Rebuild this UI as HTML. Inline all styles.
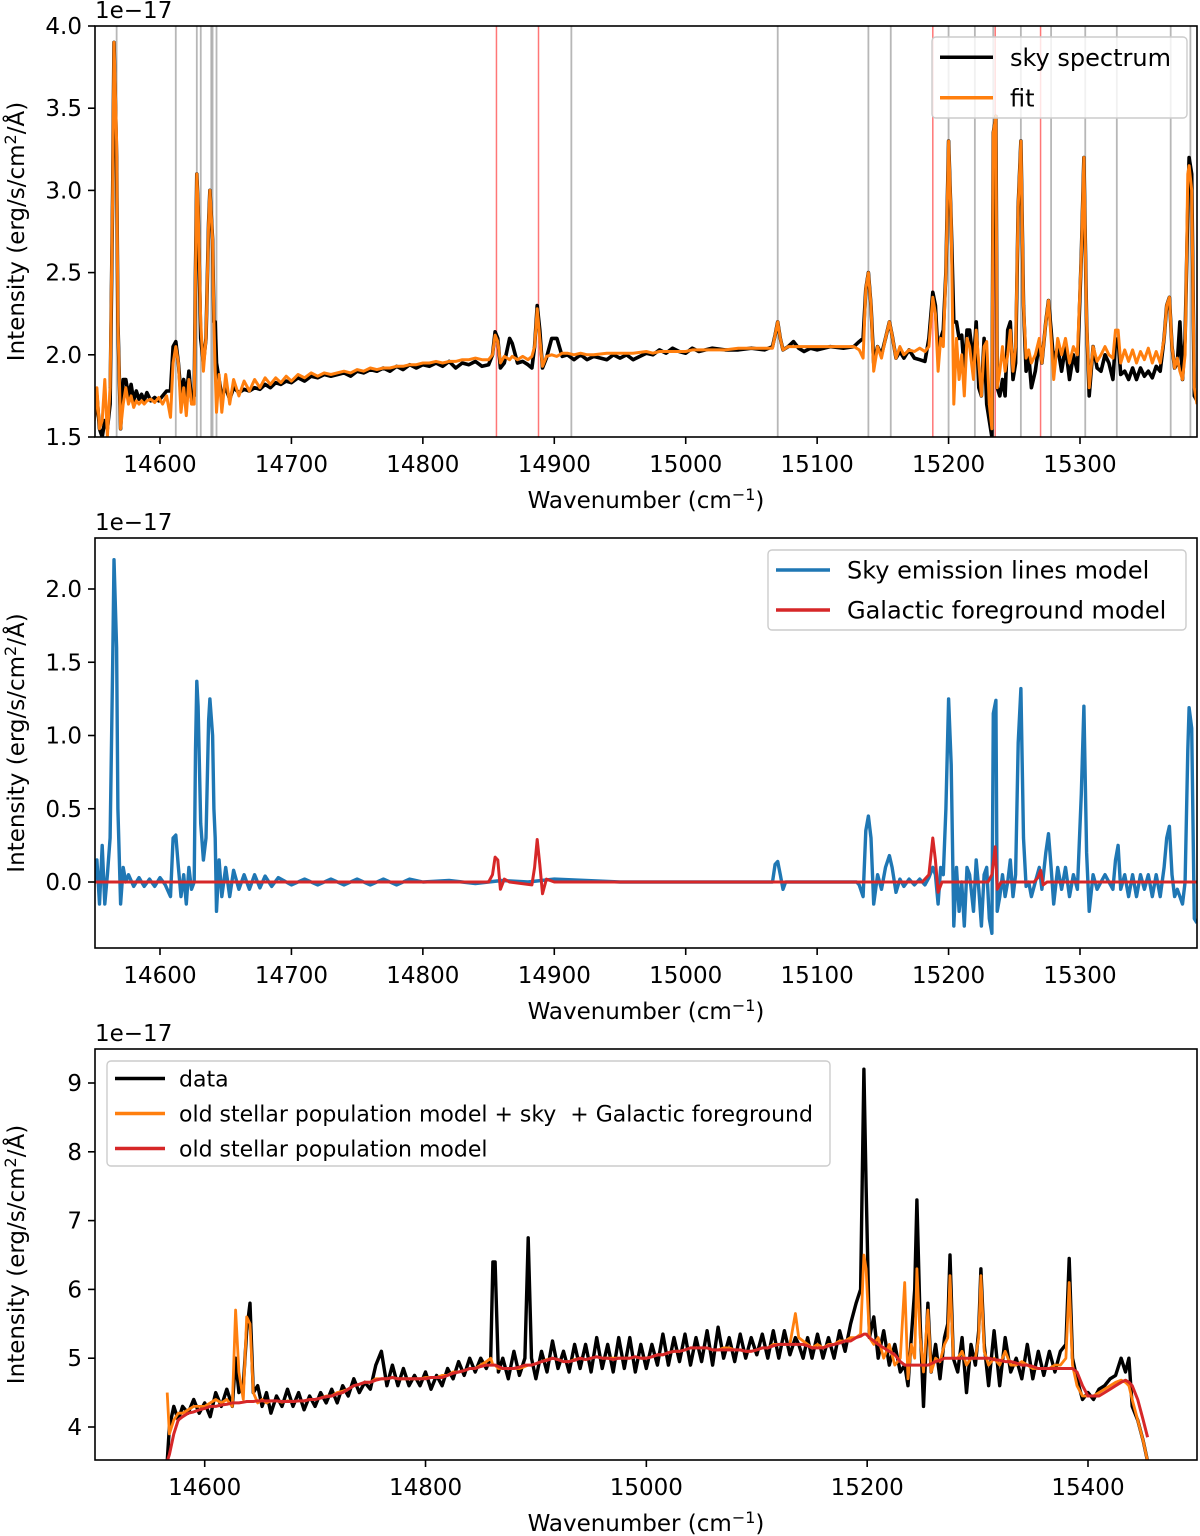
<!DOCTYPE html>
<html><head><meta charset="utf-8">
<style>
body{margin:0;background:#fff;}
svg{display:block;font-family:"DejaVu Sans","Liberation Sans",sans-serif;}
text{white-space:pre;}
</style></head>
<body>
<svg id="fig" width="1200" height="1536" viewBox="0 0 1200 1536" xmlns="http://www.w3.org/2000/svg">
<defs>
<clipPath id="c1"><rect x="95" y="26" width="1102" height="411"/></clipPath>
<clipPath id="c2"><rect x="95" y="538" width="1102" height="410"/></clipPath>
<clipPath id="c3"><rect x="95" y="1049" width="1102" height="411"/></clipPath>
</defs>
</svg>
<script>
// ---------- Panel 1 data ----------
const wn1=[14550,14552,14554,14556,14558,14560,14562,14564,14565,14567,14568,14570,14572,14574,14576,14578,14580,14582,14584,14586,14588,14590,14593,14596,14599,14602,14605,14608,14610,14612,14614,14616,14618,14620,14622,14624,14626,14627,14628,14629,14631,14633,14635,14637,14638,14640,14641,14642,14643,14645,14647,14650,14653,14656,14660,14664,14668,14672,14676,14680,14684,14688,14692,14696,14700,14705,14710,14715,14720,14725,14730,14740,14745,14750,14755,14760,14765,14770,14775,14780,14785,14790,14795,14800,14805,14810,14815,14820,14825,14830,14835,14840,14845,14850,14853,14855,14857,14859,14862,14866,14868,14872,14876,14880,14883,14885,14887,14889,14891,14894,14898,14902,14906,14910,14915,14920,14925,14930,14940,14945,14950,14955,14960,14970,14975,14980,14985,14990,14995,15000,15005,15010,15020,15030,15040,15050,15060,15066,15068,15070,15072,15074,15078,15082,15086,15090,15095,15100,15110,15120,15128,15132,15135,15137,15139,15141,15143,15146,15149,15152,15155,15157,15160,15163,15166,15170,15174,15178,15182,15185,15188,15190,15192,15194,15196,15198,15200,15202,15204,15206,15208,15210,15212,15214,15216,15219,15221,15223,15225,15227,15229,15231,15233,15234,15236,15237,15239,15241,15243,15245,15247,15249,15251,15253,15255,15257,15259,15261,15263,15266,15269,15271,15274,15276,15278,15280,15283,15286,15289,15292,15295,15298,15301,15303,15305,15307,15310,15313,15316,15319,15322,15325,15327,15329,15331,15334,15337,15340,15343,15346,15349,15352,15355,15358,15361,15364,15366,15368,15370,15372,15374,15376,15378,15380,15382,15383,15385,15387,15389];
const sky1=[1.62,1.75,1.55,1.5,1.6,1.55,1.7,3.0,3.9,3.2,2.2,1.55,1.85,1.85,1.75,1.82,1.72,1.78,1.73,1.76,1.72,1.77,1.72,1.74,1.72,1.75,1.78,1.78,2.05,2.08,1.95,1.75,1.85,1.75,1.9,1.72,1.75,2.5,3.1,2.9,2.1,1.95,2.1,2.8,3.0,2.7,2.2,2.2,1.95,1.85,1.75,1.8,1.73,1.8,1.77,1.79,1.78,1.80,1.79,1.82,1.80,1.83,1.82,1.84,1.83,1.86,1.84,1.87,1.86,1.88,1.87,1.89,1.87,1.90,1.89,1.91,1.90,1.92,1.90,1.93,1.91,1.94,1.92,1.94,1.93,1.95,1.93,1.96,1.92,1.95,1.94,1.96,1.93,1.94,2.0,2.14,2.1,1.92,1.95,2.1,2.07,1.95,1.96,1.94,1.92,2.05,2.3,2.15,1.92,1.98,2.1,2.1,1.99,2.0,1.97,2.0,1.97,1.99,1.97,2.0,1.98,2.0,1.97,2.01,2.0,2.03,2.01,2.04,2.02,2.01,2.04,2.02,2.04,2.03,2.03,2.04,2.03,2.05,2.12,2.2,2.1,2.03,2.05,2.08,2.04,2.02,2.04,2.03,2.05,2.04,2.05,2.08,2.1,2.4,2.5,2.3,1.95,2.05,2.0,2.1,2.2,2.12,1.98,2.02,1.98,2.03,1.98,1.97,1.96,2.1,2.38,2.3,2.0,2.1,2.15,2.5,3.3,2.8,2.2,2.2,2.1,2.12,1.9,2.15,2.15,1.95,2.2,1.8,1.75,2.1,1.7,1.6,1.5,3.35,3.45,1.8,1.75,1.85,1.75,2.15,2.2,1.85,1.95,2.9,3.3,2.3,1.9,2.0,1.8,1.9,2.08,1.95,2.2,2.33,2.15,1.95,2.05,1.9,2.05,1.85,2.0,1.9,2.6,3.2,2.2,1.75,2.05,1.92,1.9,2.0,1.95,1.85,2.08,2.1,1.88,1.90,1.85,1.92,1.85,1.92,1.87,1.90,1.86,1.93,1.9,2.1,2.3,2.35,2.05,1.92,1.95,2.2,1.85,2.1,2.9,3.2,3.1,1.75,1.72];
const fit1=[1.6,1.8,1.55,1.6,1.85,1.5,1.8,3.0,3.9,3.3,2.2,1.55,1.7,1.8,1.7,1.75,1.68,1.72,1.7,1.72,1.7,1.72,1.73,1.71,1.74,1.70,1.75,1.62,1.95,2.05,1.95,1.65,1.80,1.63,1.85,1.70,1.7,2.5,3.1,2.9,2.2,1.9,2.1,2.8,3.0,2.7,2.2,1.9,1.65,1.88,1.65,1.88,1.7,1.85,1.75,1.84,1.78,1.85,1.80,1.86,1.82,1.86,1.83,1.87,1.84,1.88,1.86,1.89,1.87,1.89,1.88,1.90,1.89,1.91,1.90,1.92,1.91,1.92,1.92,1.93,1.93,1.94,1.94,1.95,1.95,1.96,1.95,1.96,1.96,1.97,1.97,1.98,1.97,1.97,2.0,2.12,2.08,1.95,1.99,1.97,1.99,1.97,1.99,1.97,1.99,2.05,2.28,2.1,1.93,1.99,2.0,1.99,2.01,2.01,2.0,2.01,2.0,2.0,2.01,2.01,2.01,2.01,2.01,2.02,2.01,2.02,2.02,2.02,2.02,2.02,2.03,2.03,2.03,2.03,2.04,2.04,2.04,2.04,2.12,2.2,2.1,2.03,2.05,2.05,2.05,2.05,2.05,2.05,2.05,2.05,2.05,2.03,1.98,2.4,2.5,2.3,1.9,2.05,1.98,2.1,2.2,2.12,1.98,2.05,2.0,2.03,2.02,2.04,2.02,2.05,2.35,2.25,1.9,2.1,2.05,2.5,3.3,2.8,1.7,2.1,1.85,2.0,1.75,2.1,2.05,1.85,2.15,1.95,1.75,2.05,2.08,1.7,1.55,3.35,3.45,1.8,1.9,2.05,1.9,2.0,2.15,1.9,2.05,2.9,3.3,2.3,1.98,2.03,1.95,2.0,2.1,1.95,2.2,2.33,2.1,1.85,2.1,2.0,2.1,1.95,2.05,2.0,2.6,3.2,2.2,1.8,2.05,1.96,2.0,2.05,2.0,1.98,2.15,2.15,1.95,2.03,1.96,2.03,1.95,2.02,1.97,2.04,1.95,2.02,1.95,2.1,2.3,2.35,2.05,1.92,1.98,1.9,1.85,2.0,3.1,3.15,3.0,1.8,1.7];
const grayLines1=[14567,14612,14628,14631,14639,14640,14643,14913,15070,15139,15156,15200,15220,15234,15255,15278,15304,15328,15369,15384];
const redLines1=[14856,14888,15188,15235.5,15270];
const yTicks1=[1.5,2.0,2.5,3.0,3.5,4.0];
const xTicks12=[14600,14700,14800,14900,15000,15100,15200,15300];

// ---------- Panel 2 data ----------
const wn2s=[14550,14552,14554,14556,14558,14560,14562,14564,14565,14567,14568,14570,14572,14574,14576,14580,14584,14588,14592,14596,14600,14604,14608,14610,14612,14614,14616,14618,14620,14622,14624,14626,14627,14628,14629,14631,14633,14635,14637,14638,14640,14641,14642,14643,14645,14647,14650,14653,14656,14660,14664,14668,14672,14676,14680,14685,14690,14700,14710,14720,14730,14740,14750,14760,14770,14780,14790,14800,14820,14840,14860,14880,14900,14950,15000,15066,15068,15070,15072,15074,15076,15130,15132,15135,15137,15139,15141,15143,15146,15149,15152,15155,15157,15160,15163,15166,15170,15174,15178,15182,15185,15188,15190,15192,15194,15196,15198,15200,15202,15204,15206,15208,15210,15212,15214,15216,15219,15221,15223,15225,15227,15229,15231,15233,15234,15236,15237,15239,15241,15243,15245,15247,15249,15251,15253,15255,15257,15259,15261,15263,15266,15269,15271,15274,15276,15278,15280,15283,15286,15289,15292,15295,15298,15301,15303,15305,15307,15310,15313,15316,15319,15322,15325,15327,15329,15331,15334,15337,15340,15343,15346,15349,15352,15355,15358,15361,15364,15366,15368,15370,15372,15374,15376,15378,15380,15382,15383,15385,15387,15389];
const skyModel2=[0,0.15,-0.15,0.25,-0.15,0.05,0.3,1.5,2.2,1.6,0.5,-0.15,0.1,0.0,0.05,-0.03,0.03,-0.03,0.02,-0.03,0.03,-0.02,-0.1,0.3,0.32,0.1,-0.1,0.05,-0.15,0.1,-0.05,0.0,0.9,1.37,1.2,0.4,0.15,0.3,1.1,1.25,1.0,0.5,0.3,-0.2,0.15,-0.1,0.1,-0.1,0.08,-0.05,0.05,-0.05,0.05,-0.04,0.04,-0.03,0.03,-0.02,0.02,-0.02,0.02,-0.02,0.02,-0.02,0.02,-0.02,0.02,0,0.01,-0.01,0.01,0,0.02,0,0,0,0.12,0.14,0.05,-0.05,0,0,-0.02,-0.1,0.35,0.45,0.3,-0.15,0.05,-0.05,0.1,0.18,0.1,-0.07,0.02,-0.03,0.02,-0.02,0.02,-0.02,0.03,0.1,0.05,-0.15,0.1,0.05,0.5,1.25,0.8,-0.3,0.1,-0.2,0.0,-0.3,0.1,0.05,-0.2,0.15,-0.05,-0.3,0.05,0.1,-0.25,-0.35,1.15,1.24,-0.2,-0.1,0.05,-0.1,0.0,0.15,-0.1,0.05,0.95,1.32,0.3,-0.03,0.0,-0.1,0.0,0.1,-0.05,0.2,0.33,0.1,-0.15,0.1,-0.05,0.1,-0.1,0.05,-0.05,0.6,1.2,0.2,-0.2,0.05,-0.05,0.0,0.05,0.0,-0.05,0.15,0.25,-0.05,0.05,-0.1,0.05,-0.1,0.05,-0.05,0.05,-0.1,0.05,-0.1,0.1,0.3,0.38,0.05,-0.1,-0.05,-0.1,-0.15,0.0,0.9,1.19,1.05,-0.25,-0.28];
const wn2g=[14550,14850,14853,14855,14857,14859,14862,14866,14883,14885,14887,14889,14891,14894,14900,15180,15185,15188,15190,15192,15195,15230,15233,15235.5,15237,15240,15265,15268,15270,15272,15275,15389];
const galModel2=[0,0,0.05,0.17,0.15,-0.05,0.02,0,-0.02,0.1,0.29,0.12,-0.08,0.02,0,0,0.05,0.3,0.15,-0.07,0,0,0.05,0.24,-0.05,0,0,0.03,0.08,-0.02,0,0];
const yTicks2=[0.0,0.5,1.0,1.5,2.0];

// ---------- Panel 3 data ----------
const wn3=[14566,14568,14572,14576,14580,14585,14590,14595,14600,14605,14610,14615,14620,14625,14628,14631,14635,14638,14641,14644,14648,14652,14656,14660,14665,14670,14675,14680,14685,14690,14695,14700,14705,14710,14715,14720,14725,14730,14735,14740,14745,14750,14755,14760,14765,14770,14775,14780,14785,14790,14795,14800,14805,14810,14815,14820,14825,14830,14835,14840,14845,14850,14855,14859,14861,14863,14866,14870,14875,14880,14885,14890,14893,14896,14900,14905,14910,14915,14920,14925,14930,14935,14940,14945,14950,14955,14960,14965,14970,14975,14980,14985,14990,14995,15000,15005,15010,15015,15020,15025,15030,15035,15040,15045,15050,15055,15060,15065,15070,15075,15080,15085,15090,15095,15100,15105,15110,15115,15120,15125,15130,15135,15138,15142,15146,15150,15155,15160,15165,15170,15175,15180,15185,15190,15194,15197,15199,15202,15206,15210,15215,15220,15225,15230,15234,15237,15240,15243,15245,15248,15251,15255,15258,15262,15266,15270,15273,15275,15278,15282,15286,15290,15294,15298,15301,15303,15306,15310,15315,15320,15325,15330,15335,15340,15345,15350,15355,15360,15365,15370,15375,15380,15383,15386,15390,15395,15400,15405,15410,15415,15420,15425,15430,15434,15437,15440,15445,15450,15454];
const data3=[3.5,4.0,4.3,4.1,4.3,4.2,4.4,4.2,4.35,4.15,4.5,4.3,4.55,4.3,5.0,4.5,4.6,5.4,5.8,4.5,4.6,4.3,4.5,4.2,4.45,4.3,4.55,4.3,4.5,4.25,4.45,4.3,4.5,4.35,4.55,4.35,4.6,4.45,4.7,4.5,4.65,4.55,4.9,5.1,4.6,4.9,4.6,4.85,4.6,4.75,4.6,4.8,4.55,4.75,4.6,4.85,4.7,4.95,4.75,5.0,4.8,5.0,4.85,5.0,6.4,6.4,4.8,5.0,4.7,5.1,4.75,5.0,6.75,5.0,4.7,5.1,4.8,5.25,4.85,5.1,4.8,5.2,4.85,5.2,4.8,5.3,4.85,5.2,4.8,5.3,4.85,5.3,4.8,5.2,4.85,5.2,4.9,5.35,4.9,5.3,4.95,5.35,4.9,5.3,4.95,5.4,4.9,5.45,5.0,5.3,4.95,5.35,5.0,5.3,5.05,5.35,5.0,5.4,5.0,5.4,5.05,5.3,5.2,5.0,5.3,5.0,5.35,5.0,5.3,5.0,5.4,5.1,5.5,5.8,6.0,9.2,7.5,5.3,5.6,5.0,5.4,4.9,5.2,4.8,4.9,4.6,5.3,6.0,7.3,5.5,4.3,5.8,4.8,5.2,4.7,5.3,5.5,6.5,5.0,4.8,5.3,4.5,5.2,4.9,5.4,6.3,5.2,4.6,5.4,4.6,5.3,4.8,5.0,4.7,5.2,4.7,5.1,4.75,5.1,4.8,5.1,5.2,6.45,5.0,4.7,4.4,4.5,4.4,4.55,4.6,4.7,4.75,5.0,4.8,5.0,4.3,4.1,3.8,3.5];
const fullModel3=[4.5,3.9,4.1,4.2,4.2,4.25,4.3,4.3,4.3,4.35,4.4,4.35,4.4,4.3,5.7,4.8,4.4,5.6,5.5,4.5,4.35,4.4,4.35,4.38,4.38,4.36,4.38,4.37,4.38,4.38,4.4,4.4,4.42,4.45,4.45,4.5,4.52,4.55,4.6,4.62,4.65,4.65,4.7,4.7,4.7,4.72,4.7,4.7,4.7,4.7,4.7,4.72,4.72,4.72,4.75,4.75,4.8,4.8,4.82,4.85,4.85,4.9,4.95,5.0,4.9,4.9,4.85,4.85,4.85,4.85,4.85,4.88,4.9,4.9,4.92,4.95,4.98,5.0,4.98,4.95,4.95,4.98,5.0,4.98,5.0,5.02,5.0,5.0,5.0,5.0,5.0,5.0,5.02,5.0,5.0,5.02,5.05,5.05,5.08,5.1,5.1,5.12,5.15,5.15,5.15,5.15,5.12,5.12,5.15,5.15,5.12,5.12,5.1,5.1,5.12,5.15,5.15,5.2,5.2,5.2,5.2,5.65,5.3,5.25,5.2,5.15,5.2,5.15,5.2,5.2,5.25,5.25,5.3,5.3,5.35,6.5,6.3,5.3,5.2,5.3,5.0,5.2,4.9,5.0,6.1,4.7,5.2,5.0,6.3,5.3,4.8,5.7,4.8,5.0,4.95,5.2,5.3,6.2,5.0,5.0,5.1,4.9,5.0,5.0,5.3,6.2,5.1,4.9,5.0,4.9,5.1,4.9,4.9,4.95,4.9,4.85,4.85,4.85,4.85,4.9,4.9,5.0,6.1,4.9,4.6,4.45,4.45,4.45,4.5,4.55,4.6,4.65,4.68,4.65,4.6,4.4,4.1,3.8,3.5];
const stellar3=[3.5,3.6,3.9,4.1,4.15,4.2,4.22,4.25,4.27,4.3,4.3,4.32,4.33,4.35,4.35,4.35,4.36,4.37,4.37,4.37,4.38,4.38,4.38,4.38,4.38,4.37,4.37,4.37,4.38,4.38,4.4,4.4,4.42,4.44,4.45,4.48,4.5,4.55,4.6,4.62,4.65,4.65,4.68,4.7,4.7,4.72,4.7,4.7,4.7,4.7,4.7,4.7,4.72,4.72,4.72,4.75,4.78,4.8,4.82,4.85,4.85,4.88,4.9,4.9,4.9,4.9,4.88,4.85,4.85,4.85,4.87,4.9,4.9,4.9,4.92,4.95,4.97,5.0,4.98,4.95,4.95,4.97,5.0,4.98,5.0,5.02,5.0,5.0,4.98,5.0,5.0,5.0,5.02,5.0,5.0,5.02,5.05,5.05,5.08,5.1,5.1,5.12,5.15,5.15,5.15,5.15,5.12,5.12,5.12,5.12,5.12,5.12,5.1,5.1,5.12,5.15,5.15,5.18,5.2,5.2,5.2,5.2,5.2,5.2,5.18,5.15,5.15,5.15,5.18,5.2,5.22,5.25,5.25,5.3,5.32,5.35,5.35,5.3,5.25,5.2,5.15,5.1,5.05,4.95,4.9,4.9,4.9,4.9,4.9,4.9,4.9,4.9,4.92,4.95,4.97,5.0,5.0,5.0,5.0,5.0,5.0,5.0,5.0,5.0,5.0,5.0,5.0,5.0,4.98,4.97,4.95,4.95,4.93,4.9,4.9,4.88,4.85,4.85,4.85,4.85,4.85,4.85,4.85,4.85,4.8,4.6,4.45,4.45,4.45,4.5,4.55,4.6,4.65,4.68,4.65,4.6,4.4,4.1,3.85,3.5];
const yTicks3=[4,5,6,7,8,9];
const xTicks3=[14600,14800,15000,15200,15400];

// ---------- drawing ----------
const svg=document.getElementById('fig');
const NS='http://www.w3.org/2000/svg';
function mk(tag,attrs,parent){const e=document.createElementNS(NS,tag);for(const k in attrs)e.setAttribute(k,attrs[k]);(parent||svg).appendChild(e);return e;}
function lin(d0,d1,r0,r1){return v=>r0+(v-d0)*(r1-r0)/(d1-d0);}

const X12=lin(14600,15300,160,1080);
const Y1=lin(1.5,4.0,437,26);
const Y2=lin(0.0,2.0,882,589);
const X3=lin(14600,15400,204.7,1088);
const Y3=lin(4,9,1427,1083);

function pathD(xs,ys,X,Y){let d='';for(let i=0;i<xs.length;i++){d+=(i?'L':'M')+X(xs[i]).toFixed(1)+' '+Y(ys[i]).toFixed(1);}return d;}

function axes(name,top,bottom,xt,X,yt,Y,fmt){
  const g=mk('g',{});
  
  
  xt.forEach(v=>{
    const x=X(v);
    const t=mk('line',{x1:x,x2:x,y1:bottom,y2:bottom+7,stroke:'#000','stroke-width':1.6},g);
    
    
    const l=mk('text',{x:x,y:bottom+35,'text-anchor':'middle','font-size':23},g);
    
    
    l.textContent=v;
  });
  yt.forEach(v=>{
    const y=Y(v);
    const t=mk('line',{x1:88,x2:95,y1:y,y2:y,stroke:'#000','stroke-width':1.6},g);
    
    
    const l=mk('text',{x:82,y:y+8,'text-anchor':'end','font-size':23},g);
    
    
    l.textContent=fmt(v);
  });
  const xl=mk('text',{x:646,y:bottom+71,'text-anchor':'middle','font-size':23},g);
  
  
  xl.innerHTML='Wavenumber (cm<tspan dy="-8" font-size="16">−1</tspan><tspan dy="8">)</tspan>';
  const mid=(top+bottom)/2;
  const yl=mk('text',{x:0,y:0,'text-anchor':'middle','font-size':23,transform:`translate(24 ${mid}) rotate(-90)`},g);
  
  
  yl.innerHTML='Intensity (erg/s/cm<tspan dy="-8" font-size="16">2</tspan><tspan dy="8">/Å)</tspan>';
  const off=mk('text',{x:95,y:top-8,'font-size':23},g);
  
  
  off.textContent='1e−17';
}
function frame(top,bottom){
  const r=mk('rect',{x:95,y:top,width:1102,height:bottom-top,fill:'none',stroke:'#000','stroke-width':1.6});
  
  
}
function series(xs,ys,X,Y,color,w,clip,name){
  const p=mk('path',{d:pathD(xs,ys,X,Y),fill:'none',stroke:color,'stroke-width':w,'stroke-linejoin':'round','clip-path':`url(#${clip})`});
  
  
}
function legend(name,x,y,w,h,items,fs,gap,lineLen){
  const g=mk('g',{});
  
  
  mk('rect',{x:x,y:y,width:w,height:h,rx:4,fill:'#fff','fill-opacity':0.8,stroke:'#ccc','stroke-width':1.4},g);
  items.forEach((it,i)=>{
    const cy=y+h/items.length*(i+0.5);
    const ln=mk('line',{x1:x+8,x2:x+8+lineLen,y1:cy,y2:cy,stroke:it[1],'stroke-width':3.5},g);
    
    
    const t=mk('text',{x:x+8+lineLen+gap,y:cy+fs*0.36,'font-size':fs},g);
    
    
    t.textContent=it[0];
  });
}

// Panel 1
grayLines1.forEach(v=>{const l=mk('line',{x1:X12(v),x2:X12(v),y1:26,y2:437,stroke:'#999','stroke-opacity':0.7,'stroke-width':1.8});
  
  });
redLines1.forEach(v=>{const l=mk('line',{x1:X12(v),x2:X12(v),y1:26,y2:437,stroke:'#f55','stroke-opacity':0.8,'stroke-width':1.5});
  
  });
series(wn1,sky1,X12,Y1,'#000',3.6,'c1','sky-spectrum-line');
series(wn1,fit1,X12,Y1,'#ff7f0e',3,'c1','fit-line');
frame(26,437);
axes('panel1-axes',26,437,xTicks12,X12,yTicks1,Y1,v=>v.toFixed(1));
legend('legend-panel1',932,37,255,81,[['sky spectrum','#000'],['fit','#ff7f0e']],24,17,53);

// Panel 2
series(wn2s,skyModel2,X12,Y2,'#1f77b4',3.4,'c2','sky-emission-model-line');
series(wn2g,galModel2,X12,Y2,'#d62728',3,'c2','galactic-foreground-line');
frame(538,948);
axes('panel2-axes',538,948,xTicks12,X12,yTicks2,Y2,v=>v.toFixed(1));
legend('legend-panel2',768,550,418,80,[['Sky emission lines model','#1f77b4'],['Galactic foreground model','#d62728']],24,17,54);

// Panel 3
series(wn3,data3,X3,Y3,'#000',3.4,'c3','data-line');
series(wn3,fullModel3,X3,Y3,'#ff7f0e',2.8,'c3','full-model-line');
series(wn3,stellar3,X3,Y3,'#d62728',3,'c3','stellar-model-line');
frame(1049,1460);
axes('panel3-axes',1049,1460,xTicks3,X3,yTicks3,Y3,v=>String(v));
legend('legend-panel3',107,1061,723,105,[['data','#000'],['old stellar population model + sky  + Galactic foreground','#ff7f0e'],['old stellar population model','#d62728']],22,14,50);
</script>
</body></html>
